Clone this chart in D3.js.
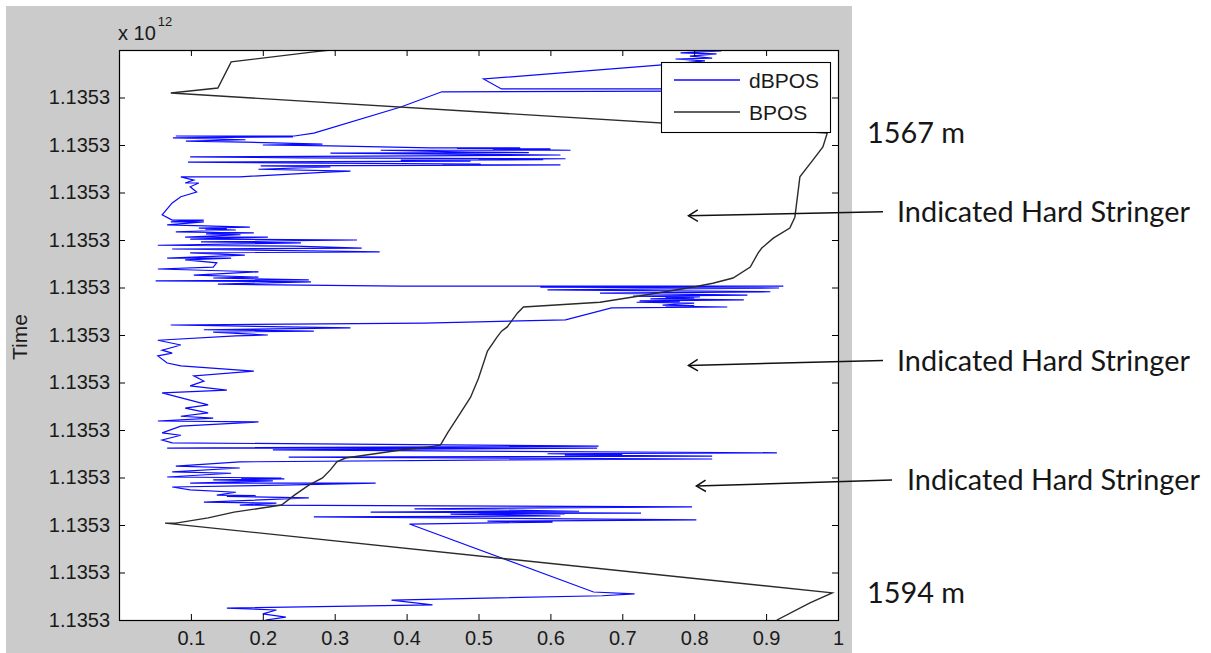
<!DOCTYPE html>
<html>
<head>
<meta charset="utf-8">
<script src="https://cdn.jsdelivr.net/npm/d3@7"></script>
<style>
  html, body { margin: 0; padding: 0; background: #ffffff; }
  svg { display: block; }
</style>
</head>
<body>
<svg id="chart" width="1211" height="653"></svg>
<script>
// Samples are [time, value]; time counts tick intervals down from the top of the axis.
const dbposSamples = [
  [0.00,0.736],[0.02,0.8375],[0.06,0.781],[0.08,0.831],[0.13,0.794],[0.17,0.825],[0.19,0.774],[0.23,0.815],
  [0.32,0.751],[0.61,0.507],[0.82,0.532],[0.82,0.9125],[0.84,0.933],[0.86,0.906],[0.88,0.449],[1.20,0.392],
  [1.75,0.271],[1.81,0.244],[1.81,0.079],[1.83,0.242],[1.85,0.075],[1.89,0.176],[1.92,0.093],[1.94,0.175],
  [1.98,0.283],[2.00,0.200],[2.02,0.294],[2.06,0.433],[2.06,0.558],[2.07,0.470],[2.08,0.600],[2.09,0.520],
  [2.11,0.628],[2.11,0.364],[2.15,0.489],[2.16,0.570],
  [2.17,0.294],[2.21,0.614],[2.23,0.419],[2.25,0.099],[2.27,0.253],[2.29,0.621],[2.30,0.500],[2.31,0.590],
  [2.32,0.392],[2.34,0.489],
  [2.36,0.096],[2.38,0.281],[2.40,0.503],[2.41,0.450],[2.42,0.614],[2.44,0.197],[2.46,0.294],[2.51,0.194],
  [2.55,0.322],
  [2.57,0.290],[2.67,0.168],[2.67,0.086],[2.74,0.104],[2.80,0.092],[2.80,0.111],[2.88,0.099],[2.99,0.108],
  [3.09,0.086],[3.22,0.074],[3.47,0.060],[3.58,0.074],[3.58,0.118],[3.62,0.072],[3.62,0.118],[3.68,0.067],
  [3.73,0.182],[3.75,0.111],[3.76,0.150],[3.77,0.120],[3.79,0.1625],[3.83,0.079],[3.85,0.1875],[3.86,0.140],
  [3.87,0.121],[3.89,0.169],[3.94,0.092],
  [3.94,0.207],[3.98,0.099],[4.00,0.331],[4.04,0.114],[4.06,0.253],[4.11,0.054],[4.13,0.244],[4.17,0.3375],
  [4.19,0.074],[4.25,0.3625],[4.27,0.099],[4.32,0.175],[4.38,0.067],[4.38,0.156],[4.42,0.092],[4.48,0.136],
  [4.57,0.131],[4.61,0.054],[4.67,0.194],[4.74,0.104],[4.78,0.194],[4.80,0.131],[4.84,0.264],[4.86,0.051],
  [4.88,0.267],[4.93,0.1375],[4.97,0.392],[4.97,0.924],[4.99,0.586],[5.01,0.918],[5.05,0.596],[5.09,0.906],
  [5.12,0.669],[5.16,0.874],[5.18,0.715],[5.20,0.808],[5.21,0.760],[5.22,0.800],[5.24,0.739],[5.26,0.869],
  [5.28,0.724],[5.30,0.780],[5.31,0.720],[5.33,0.800],
  [5.37,0.756],[5.38,0.800],[5.39,0.760],[5.41,0.846],[5.43,0.685],[5.68,0.621],[5.75,0.424],[5.79,0.072],
  [5.85,0.322],[5.89,0.118],
  [5.92,0.271],[5.94,0.131],[6.00,0.207],[6.02,0.1625],[6.11,0.054],[6.21,0.086],[6.32,0.060],[6.38,0.074],
  [6.44,0.054],[6.59,0.067],[6.65,0.086],[6.76,0.1875],[6.86,0.104],[6.97,0.118],[7.07,0.099],[7.16,0.150],
  [7.22,0.060],[7.47,0.124],[7.54,0.092],[7.64,0.124],[7.71,0.086],[7.75,0.131],[7.81,0.054],[7.83,0.194],
  [7.92,0.086],[8.06,0.060],[8.11,0.086],[8.21,0.060],[8.27,0.074],[8.34,0.667],[8.38,0.067],[8.38,0.665],
  [8.42,0.214],[8.48,0.915],[8.50,0.596],[8.52,0.700],[8.53,0.620],[8.55,0.825],[8.57,0.236],[8.61,0.825],
  [8.63,0.551],[8.67,0.168],
  [8.76,0.079],[8.80,0.168],[8.88,0.074],[8.91,0.156],[8.99,0.067],[9.01,0.226],[9.02,0.170],[9.03,0.230],
  [9.05,0.131],[9.07,0.214],
  [9.12,0.099],[9.12,0.357],[9.16,0.226],[9.20,0.074],[9.26,0.099],[9.31,0.1625],[9.37,0.136],[9.38,0.190],
  [9.40,0.150],[9.43,0.264],
  [9.52,0.118],[9.54,0.219],[9.58,0.168],[9.62,0.797],[9.66,0.411],[9.71,0.640],[9.72,0.460],[9.73,0.350],
  [9.75,0.726],[9.76,0.500],[9.765,0.620],
  [9.77,0.461],[9.81,0.614],[9.82,0.480],[9.83,0.271],[9.89,0.803],[9.92,0.5125],[9.94,0.603],[9.98,0.404],
  [11.41,0.660],
  [11.45,0.717],[11.49,0.672],[11.58,0.379],[11.68,0.436],[11.75,0.150],[11.79,0.219],[11.87,0.200],[11.94,0.232],
  [12.00,0.204]
];

const bposSamples = [
  [0.00,0.294],[0.04,0.271],[0.25,0.156],[0.80,0.1375],[0.905,0.072],[1.75,0.985],[2.04,0.979],[2.32,0.965],
  [2.67,0.947],[3.16,0.943],[3.52,0.940],[3.75,0.933],[3.96,0.910],[4.17,0.894],[4.27,0.889],[4.57,0.878],
  [4.80,0.854],[4.91,0.826],[4.99,0.799],[5.20,0.715],[5.31,0.669],[5.41,0.5625],[5.54,0.554],[5.83,0.540],
  [5.92,0.532],[6.06,0.525],[6.34,0.5125],[6.91,0.500],[7.31,0.489],[7.64,0.475],[8.06,0.457],[8.32,0.447],
  [8.36,0.429],[8.42,0.392],[8.59,0.315],[8.67,0.303],[8.84,0.294],[9.01,0.283],[9.16,0.264],[9.37,0.244],
  [9.58,0.226],[9.73,0.160],[9.85,0.124],[9.96,0.079],[9.96,0.064],[11.43,0.992],[11.64,0.961],[12.00,0.915]
];

const xTickValues = [0.1, 0.2, 0.3, 0.4, 0.5, 0.6, 0.7, 0.8, 0.9, 1];
const xTickLabels = ["0.1", "0.2", "0.3", "0.4", "0.5", "0.6", "0.7", "0.8", "0.9", "1"];
const yTickValues = [1, 2, 3, 4, 5, 6, 7, 8, 9, 10, 11, 12];
const yTickLabels = ["1.1353", "1.1353", "1.1353", "1.1353", "1.1353", "1.1353",
                     "1.1353", "1.1353", "1.1353", "1.1353", "1.1353", "1.1353"];
const seriesNames = ["dBPOS", "BPOS"];
const seriesColors = ["#0a0aff", "#2b2b2b"];
const yAxisTitle = "Time";
const exponentBase = "x 10";
const exponentPower = "12";

// Right-hand notes: arrows point at the quiet intervals between the bursts
const noteLabels = ["Indicated Hard Stringer", "Indicated Hard Stringer", "Indicated Hard Stringer"];
const noteTipValue = [0.792, 0.792, 0.803];
const noteTipTime = [3.49, 6.64, 9.18];
const depthLabels = ["1567 m", "1594 m"];
const depthTime = [1.75, 11.43];

const svg = d3.select("#chart");
const W = 1211, H = 653;
const plot = { left: 119, right: 838, top: 50, bottom: 620 };
const axisFont = "'Liberation Sans', Arial, Helvetica, sans-serif";
const noteFont = "Lato, 'Open Sans', sans-serif";
const textColor = "#1a1a1a";

// figure background
svg.append("rect").attr("x", 0).attr("y", 0).attr("width", W).attr("height", H).attr("fill", "#ffffff");
svg.append("rect").attr("x", 6).attr("y", 6).attr("width", 846).attr("height", H - 6).attr("fill", "#cbcbcb");

const x = d3.scaleLinear().domain([0, 1]).range([plot.left, plot.right]);
const y = d3.scaleLinear().domain([0, 12]).range([plot.top, plot.bottom]);

svg.append("rect")
  .attr("x", plot.left).attr("y", plot.top)
  .attr("width", plot.right - plot.left).attr("height", plot.bottom - plot.top)
  .attr("fill", "#ffffff");

svg.append("clipPath").attr("id", "plotClip")
  .append("rect")
  .attr("x", plot.left).attr("y", plot.top)
  .attr("width", plot.right - plot.left).attr("height", plot.bottom - plot.top);

const line = d3.line().x(d => x(d[1])).y(d => y(d[0]));
const traces = svg.append("g").attr("clip-path", "url(#plotClip)");

traces.append("path").datum(dbposSamples)
  .attr("d", line).attr("fill", "none")
  .attr("stroke", seriesColors[0]).attr("stroke-width", 1.2)
  .attr("stroke-linejoin", "miter");

traces.append("path").datum(bposSamples)
  .attr("d", line).attr("fill", "none")
  .attr("stroke", seriesColors[1]).attr("stroke-width", 1.4);

// axes with inward ticks on all four sides
const tickLen = 6;
function styleAxis(g) {
  g.select(".domain").remove();
  g.selectAll(".tick line").attr("stroke", "#000").attr("stroke-width", 1);
  g.selectAll(".tick text")
    .attr("fill", textColor)
    .style("font-family", axisFont)
    .style("font-size", "20px");
}

svg.append("g").attr("transform", `translate(${plot.left},0)`)
  .call(d3.axisLeft(y).tickValues(yTickValues)
    .tickFormat((d, i) => yTickLabels[i]).tickSizeInner(-tickLen).tickSizeOuter(0).tickPadding(9))
  .call(styleAxis);

svg.append("g").attr("transform", `translate(${plot.right},0)`)
  .call(d3.axisRight(y).tickValues(yTickValues).tickFormat("").tickSizeInner(-tickLen).tickSizeOuter(0))
  .call(styleAxis);

svg.append("g").attr("transform", `translate(0,${plot.bottom})`)
  .call(d3.axisBottom(x).tickValues(xTickValues)
    .tickFormat((d, i) => xTickLabels[i]).tickSizeInner(-tickLen).tickSizeOuter(0).tickPadding(11))
  .call(styleAxis);

svg.append("g").attr("transform", `translate(0,${plot.top})`)
  .call(d3.axisTop(x).tickValues(xTickValues).tickFormat("").tickSizeInner(-tickLen).tickSizeOuter(0))
  .call(styleAxis);

svg.append("rect")
  .attr("x", plot.left + 0.5).attr("y", plot.top + 0.5)
  .attr("width", plot.right - plot.left).attr("height", plot.bottom - plot.top)
  .attr("fill", "none").attr("stroke", "#000").attr("stroke-width", 1.2);

// exponent marker above the value axis
const expo = svg.append("text")
  .attr("x", 118).attr("y", 40)
  .attr("fill", textColor)
  .style("font-family", axisFont).style("font-size", "20px");
expo.append("tspan").text(exponentBase);
expo.append("tspan").attr("dx", 2).attr("dy", -14).style("font-size", "13px").text(exponentPower);

// axis title
svg.append("text")
  .attr("transform", `translate(27,${(plot.top + plot.bottom) / 2 + 2}) rotate(-90)`)
  .attr("text-anchor", "middle")
  .attr("fill", textColor)
  .style("font-family", axisFont).style("font-size", "21px")
  .text(yAxisTitle);

// legend
const legend = svg.append("g").attr("transform", "translate(661,62)");
legend.append("rect").attr("x", 0.5).attr("y", 0.5).attr("width", 169).attr("height", 70)
  .attr("fill", "#ffffff").attr("stroke", "#000").attr("stroke-width", 1.1);
seriesNames.forEach((name, i) => {
  const ly = 18 + i * 32;
  legend.append("line").attr("x1", 13).attr("x2", 79).attr("y1", ly).attr("y2", ly)
    .attr("stroke", seriesColors[i]).attr("stroke-width", i === 0 ? 1.4 : 1.5);
  legend.append("text").attr("x", 88).attr("y", ly).attr("dy", "0.36em")
    .attr("fill", textColor)
    .style("font-family", axisFont).style("font-size", "21px")
    .text(name);
});

// notes on the right
const notes = svg.append("g");
const noteTail = [883, 883, 892];
const noteTextX = [897, 897, 907];
const noteRise = [4, 5, 6];
noteLabels.forEach((label, i) => {
  const tx = x(noteTipValue[i]), ty = y(noteTipTime[i]);
  const ex = noteTail[i], ey = ty - noteRise[i];
  notes.append("line").attr("x1", ex).attr("y1", ey).attr("x2", tx).attr("y2", ty)
    .attr("stroke", "#111").attr("stroke-width", 1.5);
  const ang = Math.atan2(ey - ty, ex - tx);
  const hl = 11, hw = 0.55;
  const p1 = [tx + hl * Math.cos(ang - hw), ty + hl * Math.sin(ang - hw)];
  const p2 = [tx + hl * Math.cos(ang + hw), ty + hl * Math.sin(ang + hw)];
  notes.append("path")
    .attr("d", `M${p1[0]},${p1[1]}L${tx},${ty}L${p2[0]},${p2[1]}`)
    .attr("fill", "none").attr("stroke", "#111").attr("stroke-width", 1.5);
  notes.append("text")
    .attr("class", "note")
    .attr("x", noteTextX[i]).attr("y", ey).attr("dy", "0.35em")
    .attr("fill", "#161616")
    .style("font-family", noteFont).style("font-size", "25px")
    .text(label);
});

depthLabels.forEach((label, i) => {
  notes.append("text")
    .attr("class", "note")
    .attr("x", 867).attr("y", y(depthTime[i])).attr("dy", "0.35em")
    .attr("fill", "#161616")
    .style("font-family", noteFont).style("font-size", "25px")
    .text(label);
});

// fit the note size so a full note spans its measured width
const probe = notes.select("text.note").node();
const w = probe.getComputedTextLength();
const noteSize = 25 * 293 / w;
notes.selectAll("text.note").style("font-size", noteSize.toFixed(2) + "px");
</script>
</body>
</html>
